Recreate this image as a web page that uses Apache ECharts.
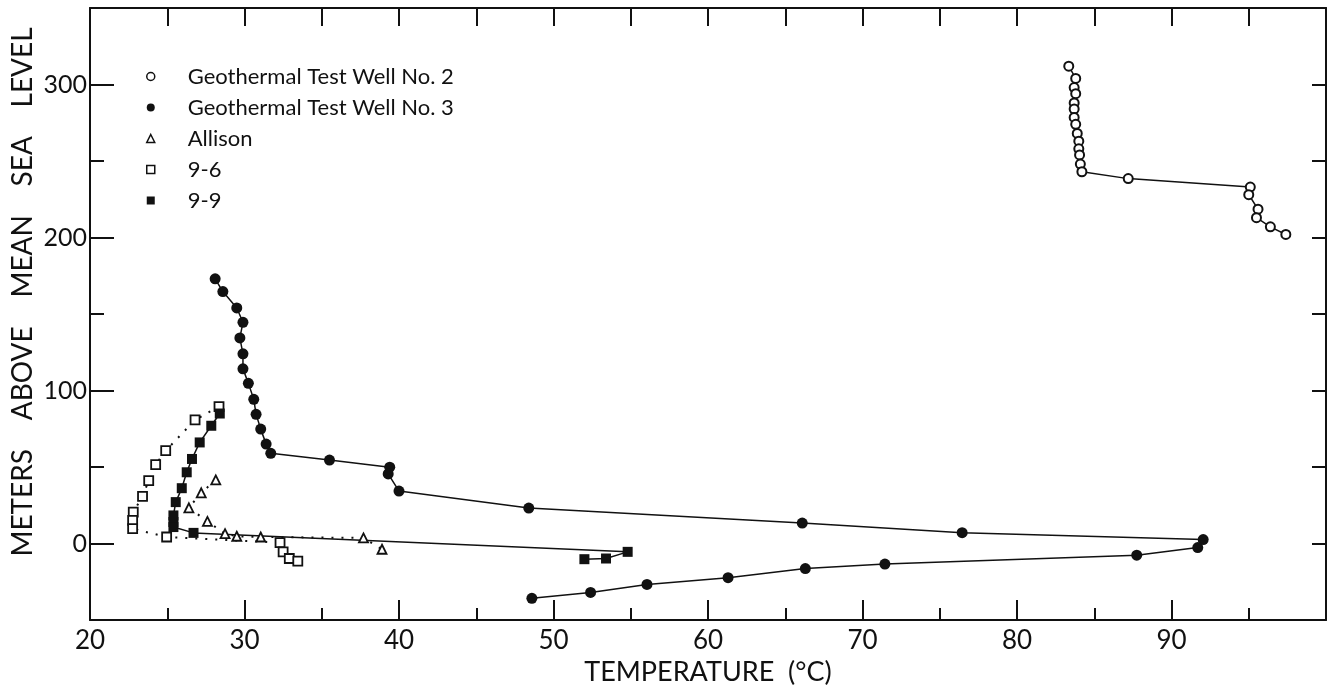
<!DOCTYPE html>
<html>
<head>
<meta charset="utf-8">
<script src="https://cdn.jsdelivr.net/npm/echarts@6/dist/echarts.min.js"></script>
<style>
html,body{margin:0;padding:0;background:#fff;}
#chart{width:1329px;height:691px;}
</style>
</head>
<body>
<div id="chart"></div>
<script>
// ---- data (temperature °C, elevation m above mean sea level) ----
const gtw2Temp = [83.35, 83.8, 83.7, 83.8, 83.7, 83.7, 83.7, 83.8, 83.9, 84.0, 84.0, 84.05, 84.1, 84.2, 87.2, 95.1, 95.0, 95.6, 95.5, 96.4, 97.4];
const gtw2Elev = [312, 304, 298, 294, 288, 284, 278.5, 274, 268, 263, 258, 254, 248, 243, 238.5, 233, 228, 218.5, 213, 207, 202];

const gtw3Temp = [28.1, 28.6, 29.5, 29.9, 29.7, 29.9, 29.9, 30.25, 30.6, 30.75, 31.05, 31.4, 31.7, 35.5, 39.4, 39.3, 40.0, 48.4, 66.1, 76.45, 92.05, 91.7, 87.75, 71.45, 66.3, 61.3, 56.05, 52.4, 48.6];
const gtw3Elev = [173, 164.7, 154, 144.6, 134.4, 124, 114.2, 104.7, 94.3, 84.5, 74.8, 65, 59, 54.6, 49.9, 45.5, 34.3, 23.2, 13.4, 7.15, 2.6, -2.6, -7.6, -13.4, -16.3, -22.3, -26.7, -31.9, -35.8];

const allisonTemp = [28.14, 27.2, 26.4, 27.6, 28.74, 29.5, 31.05, 37.7, 38.9];
const allisonElev = [41.6, 33.2, 23.4, 14.5, 6.5, 4.8, 4.3, 3.7, -3.7];

const w96Temp = [28.35, 26.8, 24.9, 24.25, 23.8, 23.4, 22.8, 22.76, 22.76, 24.96, 32.3, 32.5, 32.9, 33.45];
const w96Elev = [89.5, 80.8, 60.7, 51.6, 41.2, 30.8, 20.6, 15.2, 9.75, 4.3, 0.65, -5.4, -9.75, -11.5];

const w99Temp = [28.4, 27.85, 27.1, 26.6, 26.26, 25.94, 25.55, 25.4, 25.4, 25.4, 26.7, 54.8, 53.4, 52.0];
const w99Elev = [85, 77, 66.1, 55.3, 46.6, 36.2, 27.1, 18.4, 14.1, 10.8, 7, -5.4, -9.75, -10.2];

const seriesNames = ['Geothermal Test Well No. 2', 'Geothermal Test Well No. 3', 'Allison', '9-6', '9-9'];
const xTickLabels = [20, 30, 40, 50, 60, 70, 80, 90];
const yTickLabels = [0, 100, 200, 300];
const yMinorTicks = [50, 150, 250];
const xTitle = 'TEMPERATURE  (°C)';
const yTitle = 'METERS    ABOVE    MEAN    SEA    LEVEL';

const pair = (xs, ys) => xs.map((x, i) => [x, ys[i]]);
const FONT = 'Lato';
const INK = '#111';

const chart = echarts.init(document.getElementById('chart'), null, {renderer: 'canvas'});

const baseX = {
  type: 'value', min: 20, max: 100, splitLine: {show: false},
  axisLine: {show: true, onZero: false, lineStyle: {color: INK, width: 2}}
};
const baseY = {
  type: 'value', min: -50, max: 350, splitLine: {show: false},
  axisLine: {show: true, onZero: false, lineStyle: {color: INK, width: 2}}
};

const option = {
  animation: false,
  backgroundColor: '#fff',
  grid: {left: 90, right: 3, top: 8, bottom: 66, containLabel: false},
  legend: {
    orient: 'vertical', left: 146, top: 65, padding: 0,
    itemWidth: 8, itemHeight: 8, itemGap: 8, selectedMode: false,
    formatter: name => '{t|' + name + '}',
    textStyle: {fontFamily: FONT, fontSize: 22, color: INK, lineHeight: 23,
      rich: {t: {fontFamily: FONT, fontSize: 22, color: INK, lineHeight: 23, padding: [0, 0, 0, 28]}}},
    data: [
      {name: seriesNames[0], icon: 'circle', itemStyle: {color: '#fff', borderColor: INK, borderWidth: 1.5}},
      {name: seriesNames[1], icon: 'circle', itemStyle: {color: INK, borderWidth: 0}},
      {name: seriesNames[2], icon: 'triangle', itemStyle: {color: '#fff', borderColor: INK, borderWidth: 1.5}},
      {name: seriesNames[3], icon: 'rect', itemStyle: {color: '#fff', borderColor: INK, borderWidth: 1.5}},
      {name: seriesNames[4], icon: 'rect', itemStyle: {color: INK, borderWidth: 0}}
    ]
  },
  xAxis: [
    Object.assign({}, baseX, {
      position: 'bottom', interval: 10,
      name: xTitle, nameLocation: 'middle', nameGap: 37,
      nameTextStyle: {fontFamily: FONT, fontSize: 27, color: INK},
      axisTick: {show: true, inside: true, length: 20, lineStyle: {color: INK, width: 2}},
      minorTick: {show: true, splitNumber: 2, length: 12, lineStyle: {color: INK, width: 2}},
      axisLabel: {fontFamily: FONT, fontSize: 26, color: INK, margin: 8,
        customValues: xTickLabels}
    }),
    Object.assign({}, baseX, {
      position: 'top', interval: 5,
      axisTick: {show: true, inside: true, length: 18, lineStyle: {color: INK, width: 2}},
      axisLabel: {show: false}
    })
  ],
  yAxis: [
    Object.assign({}, baseY, {
      position: 'left', interval: 50,
      axisTick: {show: true, inside: true, length: 24, customValues: yTickLabels, lineStyle: {color: INK, width: 2}},
      axisLabel: {fontFamily: FONT, fontSize: 25, color: INK, margin: 3, customValues: yTickLabels}
    }),
    Object.assign({}, baseY, {
      position: 'left', interval: 50,
      axisLine: {show: false, onZero: false},
      axisTick: {show: true, inside: true, length: 14, customValues: yMinorTicks, lineStyle: {color: INK, width: 2}},
      axisLabel: {show: false}
    }),
    Object.assign({}, baseY, {
      position: 'right', interval: 50,
      axisTick: {show: true, inside: true, length: 14, lineStyle: {color: INK, width: 2}},
      axisLabel: {show: false}
    })
  ],
  graphic: [{
    type: 'text', x: 23, y: 292, rotation: Math.PI / 2,
    style: {text: yTitle, fontFamily: FONT, fontSize: 28, fill: INK,
      align: 'center', verticalAlign: 'middle'}
  }],
  series: [
    {
      name: seriesNames[0], type: 'line', data: pair(gtw2Temp, gtw2Elev),
      symbol: 'circle', symbolSize: 9,
      lineStyle: {color: INK, width: 1.5},
      itemStyle: {color: '#fff', borderColor: INK, borderWidth: 2}
    },
    {
      name: seriesNames[1], type: 'line', data: pair(gtw3Temp, gtw3Elev),
      symbol: 'circle', symbolSize: 11,
      lineStyle: {color: INK, width: 1.5},
      itemStyle: {color: INK, borderWidth: 0}
    },
    {
      name: seriesNames[2], type: 'line', data: pair(allisonTemp, allisonElev),
      symbol: 'triangle', symbolSize: 9,
      lineStyle: {color: INK, width: 2, type: [2, 8]},
      itemStyle: {color: '#fff', borderColor: INK, borderWidth: 1.8}
    },
    {
      name: seriesNames[3], type: 'line', data: pair(w96Temp, w96Elev),
      symbol: 'rect', symbolSize: 9,
      lineStyle: {color: INK, width: 2, type: [2, 8]},
      itemStyle: {color: '#fff', borderColor: INK, borderWidth: 1.8}
    },
    {
      name: seriesNames[4], type: 'line', data: pair(w99Temp, w99Elev),
      symbol: 'rect', symbolSize: 10,
      lineStyle: {color: INK, width: 1.5},
      itemStyle: {color: INK, borderWidth: 0}
    }
  ]
};
chart.setOption(option);
</script>
</body>
</html>
